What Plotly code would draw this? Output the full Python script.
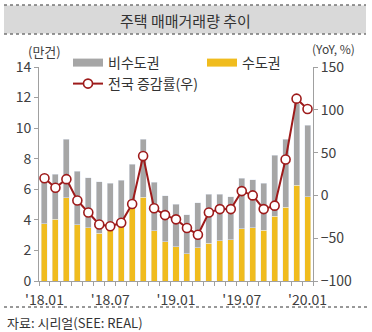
import plotly.graph_objects as go

months = ["18.01","18.02","18.03","18.04","18.05","18.06","18.07","18.08","18.09","18.10","18.11","18.12",
          "19.01","19.02","19.03","19.04","19.05","19.06","19.07","19.08","19.09","19.10","19.11","19.12","20.01"]
tick_labels = ["'18.01","","","","","","'18.07","","","","","",
               "'19.01","","","","","","'19.07","","","","","","'20.01"]
capital = [3.74,4.05,5.44,3.67,3.50,3.13,3.45,3.60,4.87,5.49,3.28,2.58,
           2.25,1.77,2.18,2.47,2.62,2.69,3.43,3.48,3.32,4.22,4.81,6.25,5.51]
non_capital = [3.16,2.95,3.85,3.52,3.27,3.36,2.93,2.98,2.78,3.80,3.19,2.99,
               2.78,2.56,2.93,3.21,3.06,2.82,3.30,3.14,3.08,4.00,4.48,5.35,4.68]
yoy = [20,9,19,-6,-20,-34,-36,-32,-10,46,-15,-23,
       -28,-38,-46,-20,-16,-16,5,0,-16,-12,42,113,101]

YELLOW = "#F0BC1E"
GRAY = "#A6A6A6"
RED = "#9E1B1B"
AXIS = "#A0A0A0"
TXT = "#404040"
FONT = "Noto Sans CJK KR"

fig = go.Figure()
fig.add_trace(go.Bar(x=months, y=capital, marker_color=YELLOW, showlegend=False, name="수도권"))
fig.add_trace(go.Bar(x=months, y=non_capital, marker_color=GRAY, showlegend=False, name="비수도권"))
# legend entries
fig.add_trace(go.Scatter(x=[None], y=[None], mode="lines", line=dict(color=GRAY, width=8),
                         name="비수도권", legend="legend"))
fig.add_trace(go.Scatter(x=[None], y=[None], mode="lines", line=dict(color=YELLOW, width=8),
                         name="수도권", legend="legend"))
fig.add_trace(go.Scatter(x=months, y=yoy, mode="lines+markers", yaxis="y2", name="전국 증감률(우)",
                         line=dict(color=RED, width=2),
                         marker=dict(size=9, color="white", line=dict(color=RED, width=1.6)),
                         legend="legend2"))

def px2x(X):
    return (X - 39) / 274.0

def px2y(Y):
    return (281 - Y) / 214.0

shapes = [
    dict(type="rect", xref="paper", yref="paper", x0=px2x(4), x1=px2x(366), y0=px2y(33.5), y1=px2y(5.5),
         fillcolor="#D9D9D9", line=dict(width=0), layer="below"),
    dict(type="line", xref="paper", yref="paper", x0=px2x(4), x1=px2x(366), y0=px2y(5), y1=px2y(5),
         line=dict(color="#333333", width=1, dash="dot")),
    dict(type="line", xref="paper", yref="paper", x0=px2x(4), x1=px2x(366), y0=px2y(34), y1=px2y(34),
         line=dict(color="#333333", width=1, dash="dot")),
    dict(type="line", xref="paper", yref="paper", x0=px2x(4), x1=px2x(368), y0=px2y(307), y1=px2y(307),
         line=dict(color="#333333", width=1, dash="dot")),
]

annotations = [
    dict(text="주택 매매거래량 추이", xref="paper", yref="paper", x=px2x(185), y=px2y(20),
         showarrow=False, font=dict(size=15, color="#333333", family=FONT), xanchor="center", yanchor="middle"),
    dict(text="자료: 시리얼(SEE: REAL)", xref="paper", yref="paper", x=px2x(5), y=px2y(322),
         showarrow=False, font=dict(size=13, color="#333333", family=FONT), xanchor="left", yanchor="middle"),
    dict(text="(만건)", xref="paper", yref="paper", x=px2x(44), y=px2y(51),
         showarrow=False, font=dict(size=13, color=TXT, family=FONT), xanchor="center", yanchor="middle"),
    dict(text="(YoY, %)", xref="paper", yref="paper", x=px2x(333), y=px2y(48),
         showarrow=False, font=dict(size=12, color=TXT, family=FONT), xanchor="center", yanchor="middle"),
]

fig.update_layout(
    width=372, height=332,
    margin=dict(l=39, r=59, t=67, b=51),
    paper_bgcolor="white", plot_bgcolor="white",
    barmode="stack", bargap=0.45,
    font=dict(family=FONT, color=TXT),
    shapes=shapes, annotations=annotations,
    xaxis=dict(type="category", range=[-0.5, 24.5], showline=True, linecolor=AXIS, linewidth=1,
               ticks="outside", tickson="boundaries", ticklen=4, tickcolor=AXIS,
               tickmode="array", tickvals=months, ticktext=tick_labels, tickangle=0,
               ticklabelstandoff=6,
               tickfont=dict(size=14, color=TXT), showgrid=False, zeroline=False, fixedrange=True),
    yaxis=dict(range=[0, 14], dtick=2, showline=True, linecolor=AXIS, linewidth=1,
               ticks="outside", ticklen=4, tickcolor=AXIS, showgrid=False, zeroline=False,
               tickfont=dict(size=14, color=TXT)),
    yaxis2=dict(range=[-100, 150], dtick=50, overlaying="y", side="right", showline=True,
                linecolor=AXIS, linewidth=1, ticks="outside", ticklen=4, tickcolor=AXIS,
                showgrid=False, zeroline=False, tickfont=dict(size=14, color=TXT)),
    legend=dict(orientation="h", x=px2x(68), y=px2y(63), xanchor="left", yanchor="middle",
                entrywidth=89, font=dict(size=14, color="#333333"), bgcolor="rgba(0,0,0,0)",
                itemclick=False, traceorder="normal"),
    legend2=dict(orientation="h", x=px2x(68), y=px2y(84), xanchor="left", yanchor="middle",
                 font=dict(size=14, color="#333333"), bgcolor="rgba(0,0,0,0)", itemclick=False),
)

fig.write_html("out.html")
